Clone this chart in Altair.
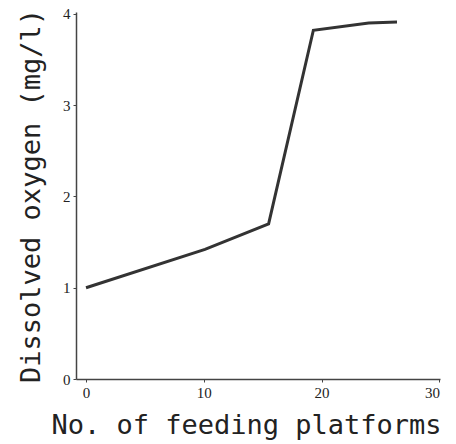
import altair as alt
import pandas as pd

platforms = [0, 10.1, 15.5, 19.3, 24.0, 26.4]
oxygen = [1.0, 1.42, 1.70, 3.82, 3.90, 3.91]

df = pd.DataFrame({"platforms": platforms, "oxygen": oxygen})

line = alt.Chart(df).mark_line(color="#333333", strokeWidth=3).encode(
    x=alt.X("platforms:Q",
            scale=alt.Scale(domain=[-0.85, 30.05], nice=False, zero=False),
            axis=alt.Axis(values=[0, 10, 20, 30], title="No. of feeding platforms",
                          grid=False, tickSize=3, labelPadding=3,
                          labelFont="Liberation Serif", labelFontSize=15,
                          labelColor="#222", titleFont="DejaVu Sans Mono",
                          titleFontSize=27, titleFontWeight="normal", titleColor="#222",
                          titlePadding=12, titleX=170, domainColor="#444", domainWidth=1.5,
                          tickColor="#444")),
    y=alt.Y("oxygen:Q",
            scale=alt.Scale(domain=[0, 4.02], nice=False),
            axis=alt.Axis(values=[0, 1, 2, 3, 4], title="Dissolved oxygen (mg/l)",
                          grid=False, tickSize=3, labelPadding=3,
                          labelFont="Liberation Serif", labelFontSize=15,
                          labelColor="#222", titleFont="DejaVu Sans Mono",
                          titleFontSize=27, titleFontWeight="normal", titleColor="#222",
                          titlePadding=17, domainColor="#444", domainWidth=1.5,
                          tickColor="#444")),
)

chart = line.properties(
    width=364, height=367,
    autosize=alt.AutoSizeParams(type="none"),
    padding={"left": 76, "top": 12, "right": 16, "bottom": 65},
).configure_view(stroke=None)

chart.save("out.html", embed_options={"renderer": "svg", "actions": False})
